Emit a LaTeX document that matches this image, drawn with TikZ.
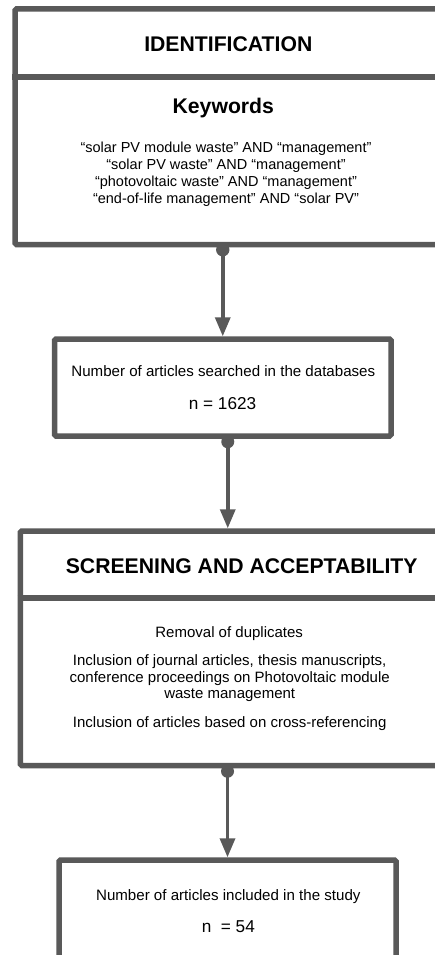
\documentclass[tikz,border=0pt]{standalone}
\usepackage{fontspec}
\setmainfont{Liberation Sans}
\usetikzlibrary{arrows.meta}
\definecolor{bordergray}{HTML}{595959}
\begin{document}
\begin{tikzpicture}[x=1pt,y=-1pt,
  box/.style={draw=bordergray, line width=5.5pt, rounded corners=1.5pt, fill=white, inner sep=0pt},
  divider/.style={draw=bordergray, line width=5.5pt},
  conn/.style={draw=bordergray, line width=3.5pt, -{Triangle[length=19pt,width=15pt]}},
  dotc/.style={fill=bordergray},
  txt/.style={inner sep=0pt, anchor=base, text=black},
  ttl/.style={txt, font=\fontsize{21.2}{24}\selectfont\bfseries},
  kwd/.style={txt, font=\fontsize{14.5}{17}\selectfont},
  body/.style={txt, font=\fontsize{15}{17}\selectfont},
  num/.style={txt, font=\fontsize{17.2}{20}\selectfont}]
\path[use as bounding box, clip] (0,0) rectangle (435,955);
\fill[white] (0,0) rectangle (435,955);

% boxes
\node[box, minimum width=423pt, minimum height=235.5pt] (b1) at (226.5,126.75) {};
\node[box, minimum width=336.5pt, minimum height=97pt] (b2) at (222.75,387.5) {};
\node[box, minimum width=417.7pt, minimum height=234.5pt] (b3) at (229.15,648.25) {};
\node[box, minimum width=337pt, minimum height=105pt] (b4) at (227.5,912.5) {};

% dividers
\coordinate (d1) at (0,77);
\coordinate (d3) at (0,598);
\draw[divider] (b1.west |- d1) -- (b1.east |- d1);
\draw[divider] (b3.west |- d3) -- (b3.east |- d3);

% texts box 1
\node[ttl] (t1) at (228.3,51.7) {IDENTIFICATION};
\node[ttl] (kw) at (223.3,113.4) {Keywords};
\node[kwd] (k1) at (226,152.5) {“solar PV module waste" AND “management"};
\node[kwd] (k2) at (226,169.5) {“solar PV waste" AND “management"};
\node[kwd] (k3) at (226,186.5) {“photovoltaic waste" AND “management"};
\node[kwd] (k4) at (226,203.5) {“end-of-life management" AND “solar PV"};

% texts box 2
\node[txt, font=\fontsize{15.1}{17}\selectfont] (n1) at (223.3,376.5) {Number of articles searched in the databases};
\node[num] (n1v) at (222.5,409) {n = 1623};

% texts box 3
\node[ttl] (t3) at (241.7,573) {SCREENING AND ACCEPTABILITY};
\node[body] (s1) at (229.2,637) {Removal of duplicates};
\node[body] (s2) at (229.7,665.5) {Inclusion of journal articles, thesis manuscripts,};
\node[body] (s3) at (229.7,682) {conference proceedings on Photovoltaic module};
\node[body] (s4) at (229.7,698.5) {waste management};
\node[body] (s5) at (229.7,727.4) {Inclusion of articles based on cross-referencing};

% texts box 4
\node[txt, font=\fontsize{15.1}{17}\selectfont] (n4) at (228.3,900) {Number of articles included in the study};
\node[num] (n4v) at (228.3,932) {n\ \ = 54};

% connectors
\coordinate (c1) at (b2.north |- b1.south);
\draw[conn] (c1) -- (b2.north);
\fill[dotc] ([yshift=-2.5pt]c1) circle (6.7pt);

\coordinate (c2) at ([xshift=5pt]b2.south);
\draw[conn] (c2) -- (c2 |- b3.north);
\fill[dotc] ([yshift=-3pt]c2) circle (6.5pt);

\coordinate (c3) at (b4.north |- b3.south);
\draw[conn] (c3) -- (b4.north);
\fill[dotc] ([yshift=-3pt]c3) circle (6.5pt);
\end{tikzpicture}
\end{document}
